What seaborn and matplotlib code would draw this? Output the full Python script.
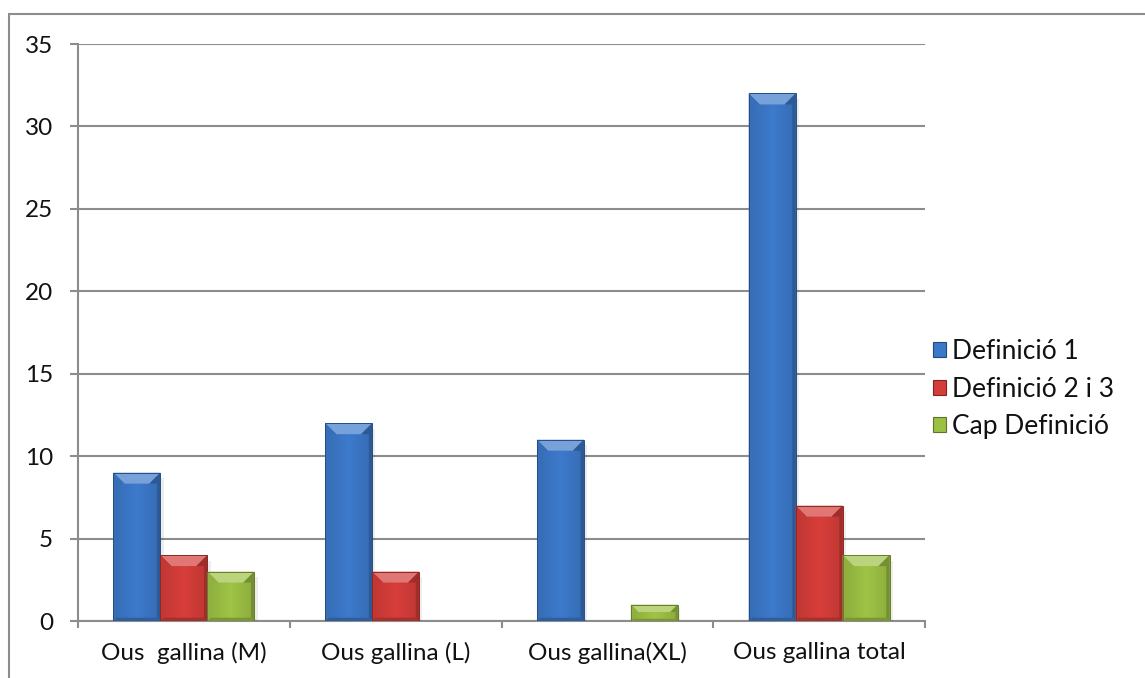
import numpy as np
import pandas as pd
import matplotlib
matplotlib.use("Agg")
import matplotlib.pyplot as plt
import seaborn as sns
from matplotlib.patches import Polygon, Patch
from matplotlib.lines import Line2D
from matplotlib.colors import to_rgb

categories = ["Ous  gallina (M)", "Ous gallina (L)", "Ous gallina(XL)", "Ous gallina total"]
series = ["Definició 1", "Definició 2 i 3", "Cap Definició"]
definicio_1 = [9, 12, 11, 32]
definicio_2_3 = [4, 3, 0, 7]
cap_definicio = [3, 0, 1, 4]
y_ticks = [0, 5, 10, 15, 20, 25, 30, 35]

colors = {"Definició 1": "#3c78c8", "Definició 2 i 3": "#d43d39", "Cap Definició": "#9cc044"}

df = pd.DataFrame({
    "categoria": categories * 3,
    "serie": [series[0]] * 4 + [series[1]] * 4 + [series[2]] * 4,
    "valor": definicio_1 + definicio_2_3 + cap_definicio,
})

sns.set_theme(style="white")
plt.rcParams["font.family"] = ["Lato", "DejaVu Sans"]
FS = 17.5

fig = plt.figure(figsize=(11.45, 6.78), dpi=100)
ax = fig.add_axes([78 / 1145, 1 - 621 / 678, (925 - 78) / 1145, (621 - 44) / 678])

sns.barplot(data=df, x="categoria", y="valor", hue="serie", order=categories,
            hue_order=series, palette=colors, width=0.665, saturation=1,
            edgecolor="none", linewidth=0, ax=ax, legend=False, zorder=3)

ax.set_ylim(0, 35)
ax.set_xlim(-0.5, len(categories) - 0.5)
ax.set_yticks(y_ticks)
ax.set_yticklabels([str(t) for t in y_ticks], fontsize=FS, color="#111111")
ax.set_xticks(range(len(categories)))
ax.set_xticklabels(categories, fontsize=FS, color="#111111")
ax.set_xlabel("")
ax.set_ylabel("")

# horizontal gridlines and axis styling
ax.yaxis.grid(True, color="#8c8c8c", linewidth=1.5, zorder=0)
ax.xaxis.grid(False)
ax.set_axisbelow(True)
for side in ["top", "right"]:
    ax.spines[side].set_visible(False)
for side in ["left", "bottom"]:
    ax.spines[side].set_color("#8c8c8c")
    ax.spines[side].set_linewidth(1.5)

ax.tick_params(axis="y", which="major", left=True, length=5.8, width=1.5,
               color="#8c8c8c", pad=12, direction="out")
ax.tick_params(axis="x", which="major", bottom=False, pad=9)
# boundary ticks between categories
ax.set_xticks(np.arange(-0.5, len(categories), 1.0), minor=True)
ax.tick_params(axis="x", which="minor", bottom=True, length=5, width=1.5,
               color="#8c8c8c", direction="out")


def shade(c, f):
    r, g, b = to_rgb(c)
    if f >= 0:
        return (r + (1 - r) * f, g + (1 - g) * f, b + (1 - b) * f)
    return (r * (1 + f), g * (1 + f), b * (1 + f))


# bevelled faces on every bar, derived from the drawn patches
fig.canvas.draw()
px_per_x = ax.transData.transform((1, 0))[0] - ax.transData.transform((0, 0))[0]
px_per_y = ax.transData.transform((0, 1))[1] - ax.transData.transform((0, 0))[1]
for bar in list(ax.patches):
    h = bar.get_height()
    if h <= 0:
        bar.set_visible(False)
        continue
    x0, w = bar.get_x(), bar.get_width()
    x1 = x0 + w
    base = bar.get_facecolor()[:3]
    bpx = min(11.0, h * px_per_y / 2.2)
    bx = bpx / px_per_x
    by = bpx / px_per_y
    # horizontal gradient across the bar body
    grad = np.linspace(0, 1, 64)
    prof = 1 - np.abs(grad - 0.5) / 0.5
    img = np.zeros((2, 64, 3))
    for k in range(3):
        img[:, :, k] = np.clip(np.array(base[k]) * (0.9 + 0.12 * prof), 0, 1)
    im = ax.imshow(img, extent=[x0, x1, 0, h], aspect="auto", zorder=3.5,
                   interpolation="bilinear")
    im.set_clip_path(bar)
    s = 0.3
    faces = [
        ([(x0, h), (x1, h), (x1 - bx, h - by), (x0 + bx, h - by)], shade(base, 0.30)),
        ([(x0, 0), (x0 + bx * s, by * s), (x0 + bx * s, h - by), (x0 + bx, h - by), (x0, h)],
         shade(base, -0.08)),
        ([(x1, 0), (x1 - bx * s, by * s), (x1 - bx * s, h - by), (x1 - bx, h - by), (x1, h)],
         shade(base, -0.25)),
        ([(x0, 0), (x1, 0), (x1 - bx * s, by * s), (x0 + bx * s, by * s)],
         shade(base, -0.22)),
    ]
    for pts, col in faces:
        ax.add_patch(Polygon(pts, closed=True, facecolor=col, edgecolor="none", zorder=4))
    ax.add_patch(Polygon([(x0, 0), (x0, h), (x1, h), (x1, 0)], closed=True,
                         facecolor="none", edgecolor=shade(base, -0.35),
                         linewidth=0.7, zorder=4.5))
    # soft drop shadow
    ax.add_patch(Polygon([(x0 + bx * 0.3, 0.0), (x1 + bx * 0.3, 0.0),
                          (x1 + bx * 0.3, h - by * 0.5), (x1, h - by * 0.5)],
                         closed=True, facecolor="#000000", alpha=0.07,
                         edgecolor="none", zorder=2.9))

ax.set_xlim(-0.5, len(categories) - 0.5)
ax.set_ylim(0, 35)

# legend
handles = [Patch(facecolor=colors[s], edgecolor=shade(colors[s], -0.4), linewidth=0.8)
           for s in series]
leg = fig.legend(handles, series, loc="center left",
                 bbox_to_anchor=(933 / 1145, 1 - 389 / 678), frameon=False,
                 fontsize=19, handlelength=0.5, handleheight=0.5,
                 handletextpad=0.22, labelspacing=0.48, borderaxespad=0,
                 borderpad=0)
for t in leg.get_texts():
    t.set_color("#111111")

# chart area border (left and top edges)
fig.add_artist(Line2D([9 / 1145, 9 / 1145], [0, 1 - 14 / 678],
                      transform=fig.transFigure, color="#8c8c8c", linewidth=1.5))
fig.add_artist(Line2D([9 / 1145, 1], [1 - 14 / 678, 1 - 14 / 678],
                      transform=fig.transFigure, color="#8c8c8c", linewidth=1.5))

fig.savefig("out.png", dpi=100, facecolor="white")
